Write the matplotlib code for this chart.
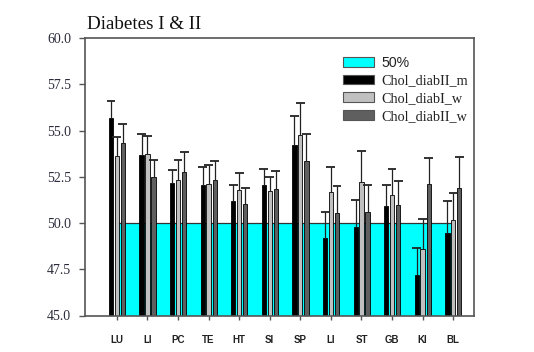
import matplotlib
matplotlib.use("Agg")
import matplotlib.pyplot as plt
import numpy as np
from matplotlib.patches import Patch

categories = ["LU", "LI", "PC", "TE", "HT", "SI", "SP", "LI", "ST", "GB", "KI", "BL"]

chol_diabII_m = [55.65, 53.69, 52.16, 52.04, 51.21, 52.05, 54.20, 49.17, 49.78, 50.92, 47.21, 49.48]
chol_diabII_m_err = [0.92, 1.12, 0.70, 0.98, 0.86, 0.85, 1.60, 1.42, 1.48, 1.12, 1.42, 1.71]

chol_diabI_w = [53.62, 53.73, 52.34, 52.09, 51.77, 51.71, 54.77, 51.68, 52.24, 51.50, 48.58, 50.16]
chol_diabI_w_err = [1.05, 0.99, 1.06, 1.06, 0.95, 0.79, 1.69, 1.37, 1.63, 1.44, 1.62, 1.48]

chol_diabII_w = [54.30, 52.48, 52.76, 52.34, 51.03, 51.84, 53.37, 50.54, 50.59, 50.99, 52.11, 51.91]
chol_diabII_w_err = [1.05, 0.92, 1.09, 0.99, 0.86, 0.95, 1.42, 1.44, 1.48, 1.30, 1.40, 1.64]

level = [50.0] * len(categories)
legend_labels = ["50%", "Chol_diabII_m", "Chol_diabI_w", "Chol_diabII_w"]

fig = plt.figure(figsize=(5.34, 3.52), dpi=100)
ax = fig.add_axes([85/534, 1-315.5/352, 389/534, 277.5/352])

x = np.arange(len(categories))

# 50% reference area
ax.fill_between(x, 45, level, color="#00ffff", zorder=1, linewidth=0)
ax.plot(x, level, color="#333333", lw=0.9, zorder=1.5)

series = [(chol_diabII_m, chol_diabII_m_err, "#000000", -0.19),
          (chol_diabI_w, chol_diabI_w_err, "#c0c0c0", 0.0),
          (chol_diabII_w, chol_diabII_w_err, "#5f5f5f", 0.2)]
capw = 0.145
for vals, err, col, off in series:
    xs = x + off
    tops = np.array(vals) + np.array(err)
    ax.bar(xs, vals, width=0.14, color=col, edgecolor="black", linewidth=0.6, zorder=2)
    # one-sided (upper) error bars
    ax.vlines(xs, vals, tops, color="#222222", lw=0.9, zorder=3)
    ax.hlines(tops, xs - capw, xs + capw, color="#222222", lw=1.3, zorder=3)

ax.set_ylim(45, 60)
ax.set_xlim(-1.04, 11.68)
ax.set_yticks([45.0, 47.5, 50.0, 52.5, 55.0, 57.5, 60.0])
ax.set_yticklabels(["%.1f" % v for v in [45.0, 47.5, 50.0, 52.5, 55.0, 57.5, 60.0]],
                   fontfamily="Liberation Serif", fontsize=10, color="#2b2b3b")
ax.set_xticks(x)
ax.set_xticklabels(categories, fontfamily="Liberation Sans", fontweight="bold", fontsize=7, color="#222222")
ax.tick_params(axis="y", direction="out", length=4, width=1, color="#555555", pad=6)
ax.tick_params(axis="x", direction="out", length=3, width=1, color="#555555", pad=11)
for sp in ax.spines.values():
    sp.set_color("#555555")
    sp.set_linewidth(1.2)

fig.text(87/534, 1-29/352, "Diabetes I & II", fontfamily="Liberation Serif", fontsize=13.7,
         va="baseline", ha="left", color="#111111")

handles = [Patch(facecolor="#00ffff", edgecolor="#555555", linewidth=0.8),
           Patch(facecolor="#000000", edgecolor="#555555", linewidth=0.8),
           Patch(facecolor="#c0c0c0", edgecolor="#555555", linewidth=0.8),
           Patch(facecolor="#5f5f5f", edgecolor="#555555", linewidth=0.8)]
leg = ax.legend(handles, legend_labels, loc="upper left", bbox_to_anchor=(330/534, 1-43/352),
                bbox_transform=fig.transFigure, frameon=False, fontsize=10.2,
                handlelength=2.2, handleheight=0.7, labelspacing=0.33, handletextpad=0.5)
for i, t in enumerate(leg.get_texts()):
    t.set_fontfamily("Liberation Sans" if i == 0 else "Liberation Serif")
    t.set_color("#222222")

fig.savefig("out.png", dpi=100)
